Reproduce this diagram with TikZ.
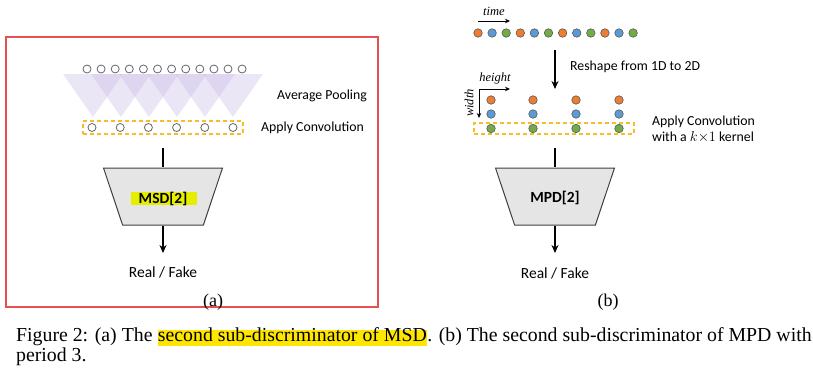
\documentclass[tikz,border=0pt]{standalone}
\usepackage{fontspec}
\setmainfont{Liberation Serif}
\newfontfamily\calfont{Carlito}
\usetikzlibrary{arrows.meta,shapes.geometric}
\definecolor{oc}{RGB}{237,125,49}
\definecolor{bc}{RGB}{91,155,213}
\definecolor{gc}{RGB}{112,173,71}
\definecolor{dashc}{RGB}{245,190,40}
\definecolor{redbox}{RGB}{230,80,80}
\definecolor{hlmsd}{RGB}{230,238,0}
\definecolor{hlcap}{RGB}{255,230,0}
\definecolor{poolc}{RGB}{200,185,230}
\tikzset{
  ring/.style={circle,draw=black!60,line width=0.8pt,fill=white,minimum size=8pt,inner sep=0pt},
  dot/.style={circle,draw=black!65,line width=0.6pt,minimum size=8.5pt,inner sep=0pt},
  lab/.style={font=\calfont\fontsize{13.8}{16}\selectfont,inner sep=0pt},
  biglab/.style={font=\calfont\fontsize{15.5}{18}\selectfont,inner sep=0pt},
  boldlab/.style={font=\calfont\bfseries\fontsize{15.5}{18}\selectfont,inner sep=0pt},
  itlab/.style={font=\itshape\fontsize{12.5}{14}\selectfont,inner sep=0pt},
  sublab/.style={font=\fontsize{18}{20}\selectfont,inner sep=0pt},
  trap/.style={trapezium,shape border rotate=180,draw=black!75,fill=black!10,line width=1pt,
    trapezium stretches=true,minimum width=119pt,minimum height=57pt,trapezium angle=76.7},
  convbox/.style={draw=dashc,line width=1.2pt,dash pattern=on 4pt off 3pt,minimum width=160pt,minimum height=13pt,inner sep=0pt},
  pool/.style={fill=poolc,fill opacity=0.35},
  bigarrow/.style={line width=1.4pt,-{Stealth[length=8pt,width=7pt]}},
  smallarrow/.style={line width=1pt,-{Stealth[length=5pt,width=4.5pt]}},
  captext/.style={font=\fontsize{19.8}{22}\selectfont,inner sep=0pt,anchor=base west},
}
\begin{document}
\begin{tikzpicture}[x=1pt,y=-1pt]
\useasboundingbox (0,0) rectangle (813,372);
\fill[white] (0,0) rectangle (813,372);
% panel (a) frame
\node[draw=redbox,line width=1.5pt,minimum width=372pt,minimum height=270pt,inner sep=0pt] (frame) at (192,172) {};
% pooling triangles
\foreach \j in {0,...,5}{
  \fill[pool] ({93+28*\j-30},74) -- ({93+28*\j+30},74) -- ({93+28*\j},117) -- cycle;
}
% top circles
\foreach \i in {0,...,11}{
  \node[ring] (a\i) at ({87+14.1*\i},69) {};
}
% conv box and lower circles
\node[convbox] (aconv) at (163,127.5) {};
\foreach \j in {0,...,5}{
  \node[ring] (b\j) at ({92+28.2*\j},127.5) {};
}
\node[lab,anchor=west] (avgp) at (277,96) {Average Pooling};
\node[lab,anchor=west] (aconvl) at (261,128) {Apply Convolution};
% MSD trapezoid
\node[trap] (msd) at (163,196.5) {};
\node[fill=hlmsd,minimum width=66pt,minimum height=13pt,inner sep=0pt] (msdhl) at (164,198.5) {};
\node[boldlab] (msdt) at (163,198.5) {MSD[2]};
\coordinate (ain) at (163,148);
\draw[line width=1.4pt] (ain) -- (msd.north);
\coordinate (aout) at (163,253);
\draw[bigarrow] (msd.south) -- (aout);
\node[biglab] (arf) at (163,272) {Real / Fake};
\node[sublab] (alab) at (213,302) {(a)};

% panel (b)
\node[itlab] (time) at (494,11) {time};
\coordinate (t0) at (478,21);
\coordinate (t1) at (510,21);
\draw[smallarrow] (t0) -- (t1);
\foreach \i/\c in {0/oc,1/bc,2/gc,3/oc,4/bc,5/gc,6/oc,7/bc,8/gc,9/oc,10/bc,11/gc}{
  \node[dot,fill=\c] (s\i) at ({478+14.1*\i},33) {};
}
\coordinate (r0) at (555,50);
\coordinate (r1) at (555,89);
\draw[bigarrow] (r0) -- (r1);
\node[lab,anchor=west] (resh) at (570,67) {Reshape from 1D to 2D};
\node[itlab] (height) at (495,78) {height};
\coordinate (hw) at (479,89);
\coordinate (he) at (510,89);
\coordinate (ws) at (479,118);
\draw[smallarrow] (hw) -- (he);
\draw[smallarrow] (hw) -- (ws);
\node[itlab,rotate=90] (width) at (469,103) {width};
\node[convbox,minimum width=160pt,minimum height=11pt] (bconv) at (554,128.5) {};
\foreach \x [count=\k] in {491,533,576,619}{
  \node[dot,fill=oc] (g1\k) at (\x,100) {};
  \node[dot,fill=bc] (g2\k) at (\x,114) {};
  \node[dot,fill=gc] (g3\k) at (\x,128.5) {};
}
\node[lab,anchor=west,align=left,font=\calfont\fontsize{13.8}{16.5}\selectfont] (bconvl) at (652,129.5) {Apply Convolution\\with a $k{\times}1$ kernel};
\node[trap] (mpd) at (555,196.5) {};
\node[boldlab] (mpdt) at (555,198) {MPD[2]};
\coordinate (bin) at (555,148);
\draw[line width=1.4pt] (bin) -- (mpd.north);
\coordinate (bout) at (555,253);
\draw[bigarrow] (mpd.south) -- (bout);
\node[biglab] (brf) at (555,273) {Real / Fake};
\node[sublab] (blab) at (608,302) {(b)};

% caption
\node[captext] (cap1a) at (16,341) {Figure 2: (a) The};
\node[captext,fill=hlcap,text height=11.5pt,text depth=5pt] (cap1b) at ([xshift=5pt]cap1a.base east) {second sub-discriminator of MSD};
\node[captext] (cap1c) at (cap1b.base east) {. (b) The second sub-discriminator of MPD with};
\node[captext] (cap2) at (16,361) {period 3.};
\end{tikzpicture}
\end{document}
